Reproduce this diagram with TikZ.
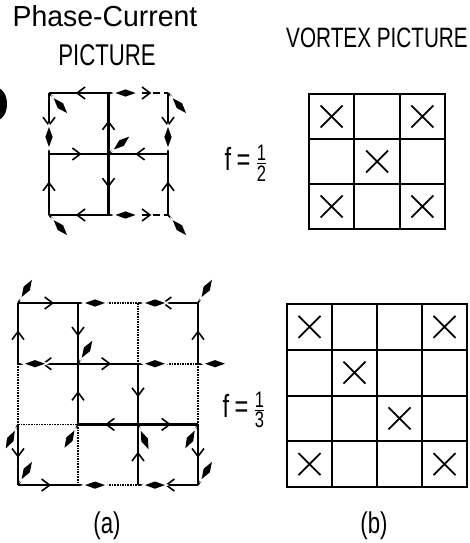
\documentclass[tikz,border=0pt]{standalone}
\usepackage{amsmath}
\usepackage{fontspec}
\setmainfont{Liberation Sans}[FakeStretch=0.74]
\newfontfamily\widesans{Liberation Sans}[FakeStretch=0.98]
\usetikzlibrary{arrows.meta,decorations.markings}

\newcommand{\phasedart}[2]{%
  \begin{scope}[shift={(#1)},rotate=#2]
    \draw[line width=1.6pt] (0,0) -- (10,0);
    \draw[white,line width=3pt] (7,0) -- (17,3.6) -- (27,0) -- (17,-3.6) -- cycle;
    \fill (7,0) -- (17,3.6) -- (27,0) -- (17,-3.6) -- cycle;
  \end{scope}}

\tikzset{
  cur/.style={line width=2.4pt,postaction={decorate},
    decoration={markings,mark=at position #1 with {\arrow[line width=1.6pt]{Straight Barb[length=8pt,width=12pt]}}}},
  cur/.default=0.55,
  weak/.style={dash pattern=on 7pt off 4pt},
  zero/.style={line width=1.6pt,densely dotted},
  lbl/.style={font=\fontsize{30}{34}\selectfont,inner sep=0pt},
  cell/.style={line width=2pt,line cap=rect},
  vx/.style={line width=1.8pt}
}

\begin{document}
\begin{tikzpicture}[x=1pt,y=-1pt]
  \useasboundingbox (0,0) rectangle (469,543);
  \fill (-3,104) ellipse [x radius=10,y radius=16];

  \node[lbl,anchor=base,font=\widesans\fontsize{29}{34}\selectfont] (phase) at (105,27) {Phase-Current};
  \node[lbl,anchor=base] (pcpic) at (107,65) {PICTURE};
  \node[lbl,anchor=base,font=\fontsize{28}{32}\selectfont] (vxpic) at (377,48) {VORTEX PICTURE};
  \node[lbl,font=\fontsize{32}{36}\selectfont] (fhalf) at (246,163) {f\,=\,$\frac{\text{1}}{\text{2}}$};
  \node[lbl,font=\fontsize{32}{36}\selectfont] (fthird) at (244,410) {f\,=\,$\frac{\text{1}}{\text{3}}$};
  \node[lbl] (capa) at (107,526) {(a)};
  \node[lbl] (capb) at (374,526) {(b)};

  % phase-current, f=1/2
  \foreach \i in {0,1,2}
    \foreach \j in {0,1,2}
      \coordinate (p\i\j) at (49+59.5*\i,93+61*\j);
  \draw[cur] (p10) -- (p00);
  \draw[cur=0.72,weak] (p10) -- (p20);
  \draw[cur] (p01) -- (p11);
  \draw[cur] (p21) -- (p11);
  \draw[cur] (p12) -- (p02);
  \draw[cur=0.72,weak] (p12) -- (p22);
  \draw[cur] (p00) -- (p01);
  \draw[cur] (p02) -- (p01);
  \draw[cur] (p11) -- (p10);
  \draw[cur] (p11) -- (p12);
  \draw[cur] (p20) -- (p21);
  \draw[cur] (p22) -- (p21);
  \phasedart{p00}{-48}
  \phasedart{p10}{0}
  \phasedart{p20}{-48}
  \phasedart{p01}{90}
  \phasedart{p11}{40}
  \phasedart{p21}{90}
  \phasedart{p02}{-48}
  \phasedart{p12}{0}
  \phasedart{p22}{-48}

  % phase-current, f=1/3
  \foreach \i in {0,1,2,3}
    \foreach \j in {0,1,2,3}
      \coordinate (q\i\j) at (18+60*\i,303+60.7*\j);
  \draw[zero] (q10) -- (q20);
  \draw[zero] (q21) -- (q31);
  \draw[zero] (q02) -- (q12);
  \draw[zero] (q13) -- (q23);
  \draw[zero] (q01) -- (q02);
  \draw[zero] (q12) -- (q13);
  \draw[zero] (q20) -- (q21);
  \draw[zero] (q31) -- (q32);
  \draw[cur=0.6] (q00) -- (q10);
  \draw[cur=0.6] (q30) -- (q20);
  \draw[cur=0.6] (q11) -- (q01);
  \draw[cur] (q11) -- (q21);
  \draw[cur] (q22) -- (q12);
  \draw[cur] (q22) -- (q32);
  \draw[cur] (q03) -- (q13);
  \draw[cur] (q33) -- (q23);
  \draw[cur] (q01) -- (q00);
  \draw[cur] (q02) -- (q03);
  \draw[cur] (q10) -- (q11);
  \draw[cur] (q12) -- (q11);
  \draw[cur] (q21) -- (q22);
  \draw[cur] (q23) -- (q22);
  \draw[cur] (q31) -- (q30);
  \draw[cur] (q32) -- (q33);
  \phasedart{q00}{59}
  \phasedart{q10}{0}
  \phasedart{q20}{0}
  \phasedart{q30}{59}
  \phasedart{q01}{0}
  \phasedart{q11}{58}
  \phasedart{q21}{0}
  \phasedart{q31}{0}
  \phasedart{q02}{-117}
  \phasedart{q12}{-120}
  \phasedart{q22}{-67}
  \phasedart{q32}{-118}
  \phasedart{q03}{59}
  \phasedart{q13}{0}
  \phasedart{q23}{0}
  \phasedart{q33}{59}

  % vortex, f=1/2
  \foreach \k in {0,...,3} {
    \draw[cell] (309+45.33*\k,94) -- ++(0,135);
    \draw[cell] (309,94+45*\k) -- ++(136,0);
  }
  \foreach \c/\r in {0/0,2/0,1/1,0/2,2/2}
    \draw[vx] (320.7+45.33*\c,105.5+45*\r) -- ++(22,22) ++(0,-22) -- ++(-22,22);

  % vortex, f=1/3
  \foreach \k in {0,...,4} {
    \draw[cell] (287+45*\k,304) -- ++(0,183);
    \draw[cell] (287,304+45.75*\k) -- ++(180,0);
  }
  \foreach \c/\r in {0/0,3/0,1/1,2/2,0/3,3/3}
    \draw[vx] (298.5+45*\c,315.9+45.75*\r) -- ++(22,22) ++(0,-22) -- ++(-22,22);
\end{tikzpicture}
\end{document}
